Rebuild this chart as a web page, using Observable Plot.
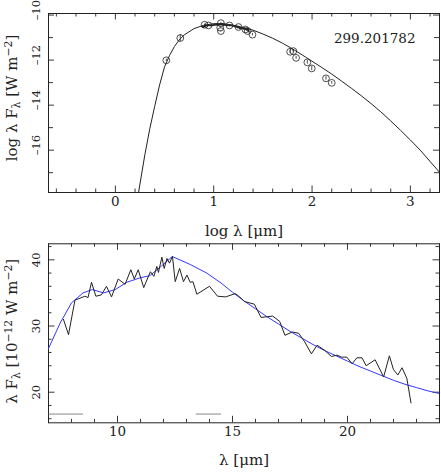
<!DOCTYPE html>
<html><head><meta charset="utf-8">
<script src="https://cdn.jsdelivr.net/npm/d3@7"></script>
<script src="https://cdn.jsdelivr.net/npm/@observablehq/plot@0.6"></script>
<style>
body{margin:0;background:#fff;}
#wrap{position:relative;width:441px;height:474px;overflow:hidden;background:#fff;}
#top,#bot{position:absolute;left:0;}
#top{top:0px} #bot{top:230px}
svg{overflow:visible}
</style></head><body><div id="wrap"><div id="top"></div><div id="bot"></div></div>
<script>
// ---------- Top panel: photometry (log lambda [um], log lambda F_lambda [W m^-2]) ----------
const photLogLam  = [0.518, 0.660, 0.907, 0.947, 1.073, 1.066, 1.073, 1.160, 1.252, 1.322, 1.345, 1.394, 1.777, 1.810, 1.838, 1.952, 1.997, 2.142, 2.200];
const photLogFlux = [-12.01, -11.02, -10.43, -10.46, -10.36, -10.56, -10.71, -10.46, -10.53, -10.64, -10.71, -10.87, -11.63, -11.60, -11.90, -12.10, -12.37, -12.81, -13.01];
const photErr     = [0.05, 0.16, 0.03, 0.03, 0.03, 0.03, 0.03, 0.03, 0.03, 0.03, 0.03, 0.05, 0.08, 0.06, 0.06, 0.08, 0.10, 0.08, 0.06];

// model SED (top panel)
const modelLogLam  = [0.22, 0.25, 0.30, 0.35, 0.40, 0.45, 0.50, 0.55, 0.60, 0.65, 0.70, 0.80, 0.90, 1.00, 1.10, 1.20, 1.30, 1.40, 1.50, 1.60, 1.70, 1.80, 1.90, 2.00, 2.10, 2.20, 2.30, 2.40, 2.50, 2.60, 2.70, 2.80, 2.90, 3.00, 3.10, 3.20, 3.30];
const modelLogFlux = [-18.3, -17.5, -16.2, -15.05, -14.05, -13.1, -12.3, -11.8, -11.4, -11.1, -10.88, -10.6, -10.45, -10.38, -10.38, -10.45, -10.55, -10.67, -10.84, -11.03, -11.25, -11.50, -11.77, -12.05, -12.33, -12.62, -12.93, -13.25, -13.58, -13.93, -14.30, -14.70, -15.12, -15.55, -16.00, -16.50, -17.00];

// ---------- Bottom panel: spectrum (lambda [um], lambda F_lambda [1e-12 W m^-2]) ----------
const specLam  = [7.65, 7.87, 8.15, 8.37, 8.58, 8.72, 8.87, 9.06, 9.30, 9.52, 9.74, 10.03, 10.33, 10.58, 10.73, 10.90, 11.14, 11.43, 11.58, 11.71, 11.78, 11.93, 12.03, 12.15, 12.26, 12.39, 12.51, 12.70, 12.87, 13.02, 13.16, 13.28, 13.45, 14.00, 14.35, 14.70, 15.12, 15.31, 15.52, 15.95, 16.24, 16.75, 17.05, 17.28, 17.60, 17.88, 18.14, 18.43, 18.68, 19.02, 19.30, 19.54, 19.75, 19.97, 20.20, 20.41, 20.63, 20.81, 21.20, 21.57, 21.82, 22.00, 22.19, 22.37, 22.58, 22.76];
const specFlux = [31.0, 28.7, 33.9, 34.2, 34.5, 34.3, 36.6, 34.5, 34.7, 36.0, 34.4, 37.1, 36.3, 38.5, 37.1, 38.5, 35.8, 38.2, 37.5, 39.0, 38.1, 40.4, 38.7, 40.2, 39.5, 40.5, 36.7, 38.7, 36.7, 37.7, 36.6, 36.7, 34.8, 36.0, 34.5, 34.4, 34.9, 34.4, 33.7, 33.3, 31.3, 31.5, 30.7, 28.6, 29.1, 28.9, 27.6, 25.8, 27.1, 26.3, 25.4, 25.6, 25.3, 25.3, 24.3, 25.2, 25.2, 24.0, 24.9, 22.3, 25.5, 23.4, 22.6, 23.7, 22.1, 18.4];

// model fit (blue)
const fitLam  = [7.0, 7.5, 8.0, 8.5, 8.9, 9.4, 9.9, 10.4, 11.0, 11.4, 11.86, 12.38, 13.16, 13.88, 14.5, 15.0, 15.5, 16.0, 16.5, 17.0, 17.5, 18.0, 18.5, 19.0, 19.5, 20.0, 20.5, 21.0, 21.5, 22.0, 22.5, 23.0, 23.5, 24.0];
const fitFlux = [26.6, 30.4, 33.5, 35.0, 35.5, 35.0, 35.5, 36.6, 37.3, 37.6, 38.9, 40.5, 39.3, 38.0, 36.5, 35.1, 33.8, 32.6, 31.4, 30.3, 29.2, 28.2, 27.2, 26.3, 25.5, 24.7, 23.9, 23.2, 22.5, 21.8, 21.2, 20.7, 20.2, 19.8];

// bandpass markers (gray)
const bandStart = [7.0, 13.4];
const bandEnd   = [8.5, 14.5];
const bandLevel = [16.7, 16.7];

// ticks & labels
const topXMajor = [0, 1, 2, 3];
const topXMinor = [-0.6, -0.4, -0.2, 0.2, 0.4, 0.6, 0.8, 1.2, 1.4, 1.6, 1.8, 2.2, 2.4, 2.6, 2.8, 3.2];
const topYMajor = [-10, -12, -14, -16];
const topYMinor = [-11, -13, -15, -17];
const botXMajor = [10, 15, 20];
const botXMinor = [7, 8, 9, 11, 12, 13, 14, 16, 17, 18, 19, 21, 22, 23, 24];
const botYMajor = [20, 30, 40];
const botYMinor = [16, 18, 22, 24, 26, 28, 32, 34, 36, 38, 42];
const objectName = "299.201782";

const topXDomain = [-0.68, 3.296], topYDomain = [-17.88, -9.93];
const botXDomain = [7, 24], botYDomain = [15.38, 42.42];

const INK = "#222";
const FONT = "DejaVu Serif";

const phot = photLogLam.map((x, i) => ({x, y: photLogFlux[i], e: photErr[i]}));
const model = modelLogLam.map((x, i) => ({x, y: modelLogFlux[i]}));
const spec = specLam.map((x, i) => ({x, y: specFlux[i]}));
const fit = fitLam.map((x, i) => ({x, y: fitFlux[i]}));
const bands = bandStart.map((x1, i) => ({x1, x2: bandEnd[i], y: bandLevel[i]}));

// inward PGPLOT-style ticks on all four sides
function frameTicks(xd, yd, xMaj, xMin, yMaj, yMin, yMajLen, yMinLen) {
  const st = {stroke: INK, strokeWidth: 0.9};
  const xt = (ticks, len) => [
    Plot.ruleX(ticks, {x: d => d, y1: () => yd[0], y2: () => yd[0], insetBottom: len, ...st}),
    Plot.ruleX(ticks, {x: d => d, y1: () => yd[1], y2: () => yd[1], insetTop: len, ...st})
  ];
  const yt = (ticks, len) => [
    Plot.ruleY(ticks, {y: d => d, x1: () => xd[0], x2: () => xd[0], insetLeft: len, ...st}),
    Plot.ruleY(ticks, {y: d => d, x1: () => xd[1], x2: () => xd[1], insetRight: len, ...st})
  ];
  return [...xt(xMaj, 6.5), ...xt(xMin, 3.5), ...yt(yMaj, yMajLen), ...yt(yMin, yMinLen)];
}
const fmt = d => String(d);
const fmtRot = d => d < 0 ? "\u2013" + Math.abs(d) : String(d);
const baseStyle = {background: "transparent", overflow: "visible", fontFamily: FONT, fontSize: "13.5px", color: INK};

const topPlot = Plot.plot({
  width: 441, height: 250,
  marginLeft: 48, marginRight: 2, marginTop: 13, marginBottom: 58,
  style: baseStyle,
  x: {domain: topXDomain, axis: null},
  y: {domain: topYDomain, axis: null},
  marks: [
    ...frameTicks(topXDomain, topYDomain, topXMajor, topXMinor, topYMajor, topYMinor, 6, 5),
    Plot.frame({stroke: INK, strokeWidth: 1}),
    Plot.line(model, {x: "x", y: "y", stroke: INK, strokeWidth: 1, clip: true}),
    Plot.line(spec, {x: d => Math.log10(d.x), y: d => Math.log10(d.y * 1e-12), stroke: INK, strokeWidth: 1.7}),
    Plot.ruleX(phot, {x: "x", y1: d => d.y - d.e, y2: d => d.y + d.e, stroke: INK, strokeWidth: 0.8}),
    Plot.dot(phot, {x: "x", y: "y", r: 3.4, stroke: INK, strokeWidth: 0.8, fill: "none"}),
    Plot.text(topXMajor, {x: d => d, frameAnchor: "bottom", dy: 13.5, text: fmt, fill: INK}),
    Plot.text(topYMajor, {y: d => d, frameAnchor: "left", dx: -12, dy: -5, rotate: -90, textAnchor: "middle", text: fmtRot, fill: INK, fontSize: 11.5}),
    Plot.text(["LBLX1"], {frameAnchor: "bottom", dy: 43, text: d => d, fill: INK, fontSize: 15}),
    Plot.text(["LBLY1"], {frameAnchor: "left", dx: -36, dy: -5, rotate: -90, textAnchor: "middle", text: d => d, fill: INK, fontSize: 15}),
    Plot.text([objectName], {frameAnchor: "top-right", dx: -24, dy: 19.5, textAnchor: "end", text: d => d, fill: INK})
  ]
});

const botPlot = Plot.plot({
  width: 441, height: 244,
  marginLeft: 48, marginRight: 2, marginTop: 13.3, marginBottom: 51.7,
  style: baseStyle,
  x: {domain: botXDomain, axis: null},
  y: {domain: botYDomain, axis: null},
  marks: [
    ...frameTicks(botXDomain, botYDomain, botXMajor, botXMinor, botYMajor, botYMinor, 6.5, 3.5),
    Plot.frame({stroke: INK, strokeWidth: 1}),
    Plot.link(bands, {x1: "x1", x2: "x2", y1: "y", y2: "y", stroke: "#888", strokeWidth: 1}),
    Plot.line(fit, {x: "x", y: "y", stroke: "#3535ff", strokeWidth: 1, clip: true}),
    Plot.line(spec, {x: "x", y: "y", stroke: INK, strokeWidth: 1}),
    Plot.text(botXMajor, {x: d => d, frameAnchor: "bottom", dy: 13.5, text: fmt, fill: INK}),
    Plot.text(botYMajor, {y: d => d, frameAnchor: "left", dx: -12, rotate: -90, textAnchor: "middle", text: fmtRot, fill: INK, fontSize: 11.5}),
    Plot.text(["LBLX2"], {frameAnchor: "bottom", dy: 42, text: d => d, fill: INK, fontSize: 15}),
    Plot.text(["LBLY2"], {frameAnchor: "left", dx: -36, dy: -2, rotate: -90, textAnchor: "middle", text: d => d, fill: INK, fontSize: 15})
  ]
});

document.getElementById("top").appendChild(topPlot);
document.getElementById("bot").appendChild(botPlot);

const sub = s => `<tspan dy="3" font-size="72%">${s}</tspan><tspan dy="-3">`;
const sup = s => `<tspan dy="-5" font-size="72%">${s}</tspan><tspan dy="5">`;
const labels = {
  LBLX1: "log λ [μm]",
  LBLY1: `log λ F${sub("λ")} [W m${sup("\u22122")}]</tspan></tspan>`,
  LBLX2: "λ [μm]",
  LBLY2: `λ F${sub("λ")} [10${sup("\u221212")} W m${sup("\u22122")}]</tspan></tspan></tspan>`
};
d3.selectAll("svg text").each(function() {
  const t = this.textContent;
  if (labels[t] !== undefined) this.innerHTML = labels[t];
});
</script>
</body></html>
